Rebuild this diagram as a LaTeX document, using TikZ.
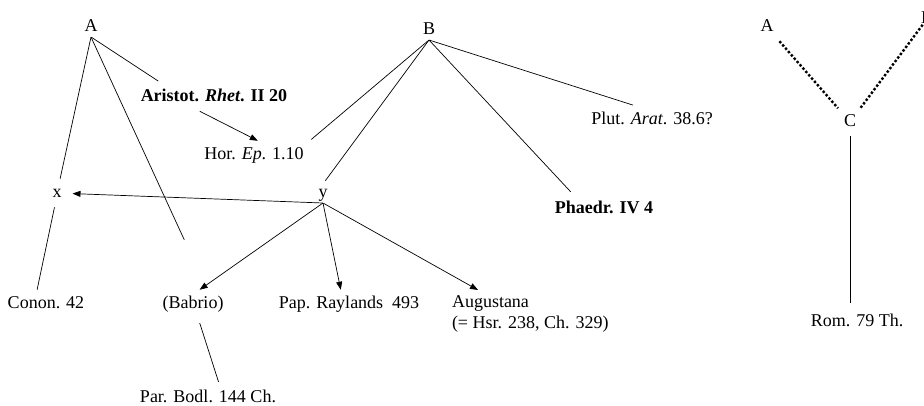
\documentclass[tikz,border=0pt]{standalone}
\usepackage{fontspec}
\setmainfont{Liberation Serif}
\usetikzlibrary{arrows.meta}

\begin{document}
\begin{tikzpicture}[x=1pt, y=-1pt, font=\fontsize{18}{21}\selectfont,
    source/.style ={inner sep=1pt, outer sep=5pt},
    witness/.style ={source, text height=12.5pt, text depth=4pt},
    siglum/.style ={inner sep=1pt, text height=12.5pt, text depth=4pt},
    branch/.style ={inner sep=0pt, minimum size=0pt, label distance=3.5pt},
    edge/.style ={line width=0.7pt},
    flow/.style ={line width=0.7pt, -{Triangle[length=8pt,width=6pt]}},
    guess/.style ={line width=2.4pt, dotted}]
   \useasboundingbox (0,0) rectangle (924,405);
   \node[branch] (A) [label={[siglum]above:A}] at (91,37) {};
   \node[branch] (B) [label={[siglum]above:B}] at (429,40) {};
   \node[branch] (y) [label={[siglum,name=ylab]above:y}] at (323,203) {};
   \node[witness] (Aris) at (214,97) {\textbf{Aristot. \textit{Rhet}. II 20}};
   \node[witness] (Hor) at (254,155) {Hor. \textit{Ep}. 1.10};
   \node[witness] (Plut) at (652,120) {Plut. \textit{Arat}. 38.6?};
   \node[witness] (Phaedr) at (604,209) {\textbf{Phaedr. IV 4}};
   \node[witness] (x) at (57,193) {x};
   \node[witness] (Conon) at (46,304) {Conon. 42};
   \node[witness] (Babrio) at (193,304) {(Babrio)};
   \node[witness] (Pap) at (349,304) {Pap. Raylands\ \ 493};
   \node[source, align=left, anchor=north west] (Aug) at (446,290)
      {Augustana\\(= Hsr. 238, Ch. 329)};
   \node[witness] (Par) at (208,398) {Par. Bodl. 144 Ch.};
   \node[witness] (A2) at (767,27) {A};
   \node[witness] (B2) at (927,19) {B};
   \node[witness] (C) at (850,122) {C};
   \node[witness] (Rom) at (857,322) {Rom. 79 Th.};
   \draw[edge] (A) to (x);
   \draw[edge, shorten >=3pt] (A) to (Aris.165);
   \draw[edge, shorten >=55pt] (A) to (Babrio.45);
   \draw[flow] (Aris.225) to (Hor.75);
   \draw[edge, shorten >=2pt] (B) to (Hor.north east);
   \draw[edge, shorten >=4pt] (B) to (ylab.north);
   \draw[edge, shorten >=4pt] (B) to (Phaedr.155);
   \draw[edge, shorten >=2pt] (B) to (Plut.140);
   \draw[flow, shorten >=5pt] (y) to (x);
   \draw[flow] (y) to (Babrio.65);
   \draw[flow] (y) to (Pap.120);
   \draw[flow] (y) to ([xshift=32pt]Aug.north west);
   \draw[edge] (x.260) to (Conon.122);
   \draw[edge, shorten <=5pt, shorten >=2pt] (Babrio.290) to (Par.52);
   \draw[guess] (A2) to (C);
   \draw[guess, shorten >=-12pt] (C) to (B2);
   \draw[edge, shorten >=5pt] (C.south) to (C.south |- Rom.north);
\end{tikzpicture}
\end{document}
